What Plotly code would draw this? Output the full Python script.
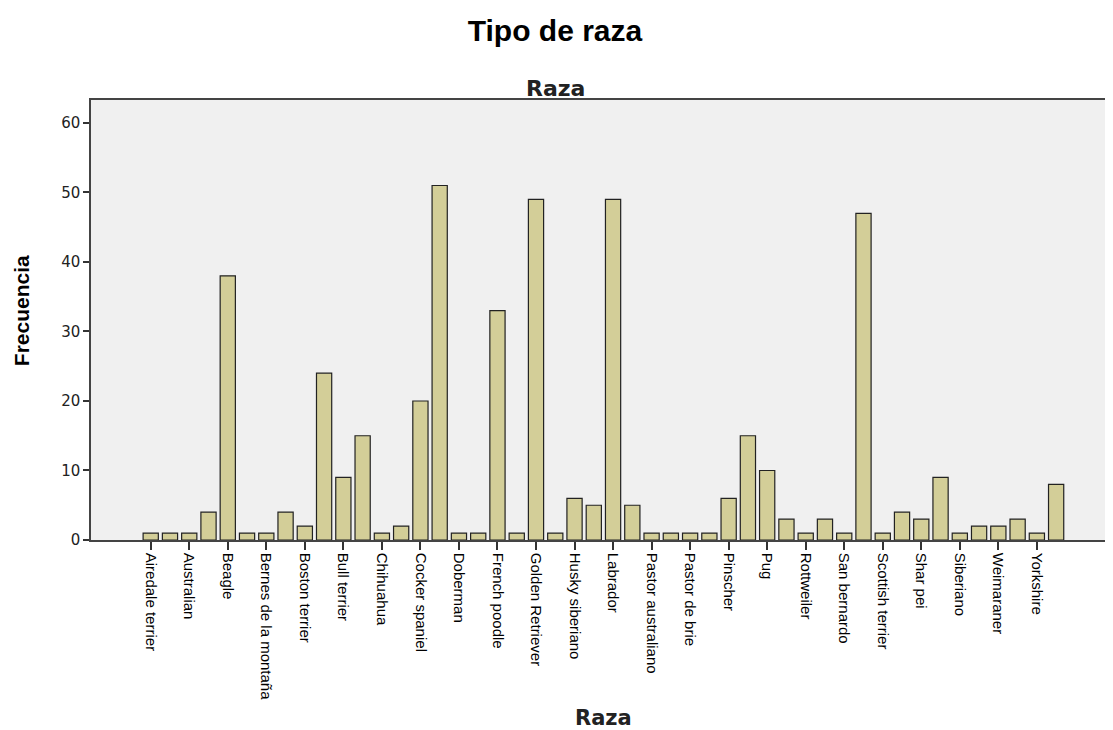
import plotly.graph_objects as go

# 48 categories (alphabetical); only every other one is labelled on the axis
frecuencias = [1, 1, 1, 4, 38, 1, 1, 4, 2, 24, 9, 15, 1, 2, 20, 51, 1, 1, 33, 1,
               49, 1, 6, 5, 49, 5, 1, 1, 1, 1, 6, 15, 10, 3, 1, 3, 1, 47, 1, 4,
               3, 9, 1, 2, 2, 3, 1, 8]
etiquetas = ["Airedale terrier", "Australian", "Beagle", "Bernes de la montaña",
             "Boston terrier", "Bull terrier", "Chihuahua", "Cocker spaniel",
             "Doberman", "French poodle", "Golden Retriever", "Husky siberiano",
             "Labrador", "Pastor australiano", "Pastor de brie", "Pinscher", "Pug",
             "Rottweiler", "San bernardo", "Scottish terrier", "Shar pei",
             "Siberiano", "Weimaraner", "Yorkshire"]
y_ticks = [0, 10, 20, 30, 40, 50, 60]

posiciones = list(range(len(frecuencias)))
posiciones_etiqueta = posiciones[::2]

# the page body adds a small offset, so the figure is drawn a bit smaller
W, H = 1105, 722

fig = go.Figure()
fig.add_trace(go.Bar(
    x=posiciones, y=frecuencias, width=0.79,
    marker=dict(color="#d3ce98", line=dict(color="#222222", width=1.2)),
    hovertemplate="%{y}<extra></extra>",
))

fig.update_layout(
    width=W, height=H,
    margin=dict(l=83, r=1, t=92, b=190, autoexpand=False),
    paper_bgcolor="white", plot_bgcolor="#f0f0f0",
    showlegend=False,
    title=dict(text="<b>Tipo de raza</b>", x=(555 - 8) / W, xanchor="center",
               y=1 - 22 / H, yanchor="middle", yref="container",
               font=dict(family="Liberation Sans, Arial", size=30, color="black")),
)
fig.add_annotation(text="<b>Raza</b>", xref="paper", yref="paper", x=0.455, y=1,
                   yanchor="middle", yshift=12, showarrow=False,
                   font=dict(family="DejaVu Sans, Verdana", size=22, color="#222"))
fig.add_annotation(text="<b>Raza</b>", xref="paper", yref="paper", x=0.502, y=0,
                   yanchor="middle", yshift=-178, showarrow=False,
                   font=dict(family="DejaVu Sans, Verdana", size=21, color="#222"))
fig.add_annotation(text="<b>Frecuencia</b>", xref="paper", yref="paper", x=0, y=0.52,
                   xanchor="center", yanchor="middle", xshift=-70, textangle=-90,
                   showarrow=False,
                   font=dict(family="Liberation Sans, Arial", size=21, color="black"))

fig.update_xaxes(
    range=[-3.1, 49.9], tickmode="array", tickvals=posiciones_etiqueta, ticktext=etiquetas,
    tickangle=90, ticks="outside", ticklen=8, tickwidth=2, tickcolor="#333",
    tickfont=dict(family="Liberation Sans, Arial", size=15, color="black"),
    showgrid=False, showline=True, linecolor="#444", linewidth=1.5, mirror=True,
    zeroline=False, automargin=False,
)
fig.update_yaxes(
    range=[0, 63.3], tickmode="array", tickvals=y_ticks,
    ticks="outside", ticklen=6, tickwidth=2, tickcolor="#333",
    tickfont=dict(family="DejaVu Sans, Verdana", size=15, color="#222"),
    showgrid=False, showline=True, linecolor="#444", linewidth=1.5, mirror=True,
    zeroline=False, automargin=False,
)

fig.write_html("out.html")
